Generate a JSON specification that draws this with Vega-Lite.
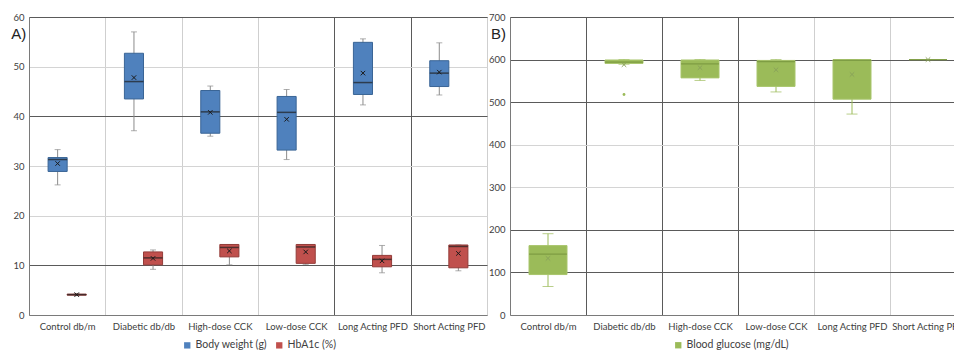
{
  "$schema": "https://vega.github.io/schema/vega-lite/v6.json",
  "padding": {"left": 10, "top": 11, "right": 0, "bottom": 0},
  "background": "white",
  "bounds": "flush",
  "spacing": 23,
  "config": {
    "font": "Lato",
    "view": {"stroke": "#8a8a8a", "strokeWidth": 1},
    "axis": {"labelFont": "Lato", "labelColor": "#404040", "ticks": false, "title": null, "domainColor": "#7a7a7a"},
    "legend": {"orient": "none", "direction": "horizontal", "symbolType": "square", "symbolSize": 40, "labelFont": "Lato", "labelFontSize": 10.5, "labelColor": "#404040", "columnPadding": 6, "labelOffset": 3, "padding": 0, "symbolStrokeWidth": 0, "title": null}
  },
  "datasets": {
    "panelA": [
      {"group": "Control db/m", "series": "Body weight (g)", "min": 26.2, "q1": 28.9, "median": 31.3, "q3": 31.7, "max": 33.3, "mean": 30.5},
      {"group": "Diabetic db/db", "series": "Body weight (g)", "min": 37.1, "q1": 43.5, "median": 47.0, "q3": 52.7, "max": 57.0, "mean": 47.8},
      {"group": "High-dose CCK", "series": "Body weight (g)", "min": 36.0, "q1": 36.6, "median": 40.9, "q3": 45.2, "max": 46.1, "mean": 40.8},
      {"group": "Low-dose CCK", "series": "Body weight (g)", "min": 31.3, "q1": 33.2, "median": 40.8, "q3": 44.0, "max": 45.4, "mean": 39.4},
      {"group": "Long Acting PFD", "series": "Body weight (g)", "min": 42.3, "q1": 44.4, "median": 46.8, "q3": 54.9, "max": 55.6, "mean": 48.7},
      {"group": "Short Acting PFD", "series": "Body weight (g)", "min": 44.3, "q1": 46.0, "median": 48.7, "q3": 51.2, "max": 54.8, "mean": 48.9},
      {"group": "Control db/m", "series": "HbA1c (%)", "min": 3.9, "q1": 4.0, "median": 4.1, "q3": 4.2, "max": 4.3, "mean": 4.1},
      {"group": "Diabetic db/db", "series": "HbA1c (%)", "min": 9.2, "q1": 10.1, "median": 11.5, "q3": 12.7, "max": 13.1, "mean": 11.4},
      {"group": "High-dose CCK", "series": "HbA1c (%)", "min": 10.1, "q1": 11.7, "median": 13.6, "q3": 14.2, "max": 14.2, "mean": 12.9},
      {"group": "Low-dose CCK", "series": "HbA1c (%)", "min": 10.2, "q1": 10.4, "median": 13.7, "q3": 14.2, "max": 14.2, "mean": 12.7},
      {"group": "Long Acting PFD", "series": "HbA1c (%)", "min": 8.5, "q1": 9.7, "median": 11.2, "q3": 12.0, "max": 14.0, "mean": 10.9},
      {"group": "Short Acting PFD", "series": "HbA1c (%)", "min": 8.9, "q1": 9.5, "median": 13.8, "q3": 14.1, "max": 14.1, "mean": 12.4}
    ],
    "panelB": [
      {"group": "Control db/m", "series": "Blood glucose (mg/dL)", "min": 67, "q1": 95, "median": 143, "q3": 163, "max": 191, "mean": 133},
      {"group": "Diabetic db/db", "series": "Blood glucose (mg/dL)", "min": 589, "q1": 591, "median": 594, "q3": 599, "max": 600, "mean": 588},
      {"group": "High-dose CCK", "series": "Blood glucose (mg/dL)", "min": 551, "q1": 557, "median": 590, "q3": 599, "max": 600, "mean": 581},
      {"group": "Low-dose CCK", "series": "Blood glucose (mg/dL)", "min": 524, "q1": 537, "median": 595, "q3": 598, "max": 600, "mean": 576},
      {"group": "Long Acting PFD", "series": "Blood glucose (mg/dL)", "min": 472, "q1": 507, "median": 598, "q3": 600, "max": 600, "mean": 565},
      {"group": "Short Acting PFD", "series": "Blood glucose (mg/dL)", "min": 600, "q1": 600, "median": 600, "q3": 600, "max": 600, "mean": 600}
    ],
    "outliersB": [
      {"group": "Diabetic db/db", "value": 518}
    ],
    "labelA": [{"label": "A)"}],
    "labelB": [{"label": "B)"}]
  },
  "resolve": {"scale": {"color": "independent", "stroke": "independent", "y": "independent", "x": "independent"}, "legend": {"color": "independent"}},
  "hconcat": [
    {
      "width": 458,
      "height": 298,
      "data": {"name": "panelA"},
      "encoding": {
        "x": {"field": "group", "type": "nominal", "sort": null, "scale": {"paddingInner": 0, "paddingOuter": 0},
          "axis": {"tickBand": "extent", "grid": true, "labelAngle": 0, "labelFontSize": 9.5, "labelPadding": 6,
            "gridColor": {"condition": {"test": "datum.value === 'Low-dose CCK' || datum.value === 'Long Acting PFD'", "value": "#5a5a5a"}, "value": "#cfcfcf"}}},
        "xOffset": {"field": "series", "type": "nominal", "scale": {"paddingInner": 0, "paddingOuter": 1}}
      },
      "layer": [
        {
          "mark": {"type": "rule", "color": "#8c8c8c", "strokeWidth": 1},
          "encoding": {
            "y": {"field": "min", "type": "quantitative", "scale": {"domain": [0, 60], "nice": false},
              "axis": {"values": [0, 10, 20, 30, 40, 50, 60], "grid": true, "labelFontSize": 9.5, "labelPadding": 5,
                "gridColor": {"condition": {"test": "datum.value === 10 || datum.value === 40 || datum.value === 60", "value": "#5a5a5a"}, "value": "#d4d4d4"}}},
            "y2": {"field": "max"}
          }
        },
        {
          "mark": {"type": "tick", "color": "#8c8c8c", "size": 6, "thickness": 1},
          "encoding": {"y": {"field": "min", "type": "quantitative"}}
        },
        {
          "mark": {"type": "tick", "color": "#8c8c8c", "size": 6, "thickness": 1},
          "encoding": {"y": {"field": "max", "type": "quantitative"}}
        },
        {
          "mark": {"type": "bar", "strokeWidth": 1},
          "encoding": {
            "y": {"field": "q1", "type": "quantitative"},
            "y2": {"field": "q3"},
            "color": {"field": "series", "type": "nominal", "scale": {"domain": ["Body weight (g)", "HbA1c (%)"], "range": ["#4f81bd", "#c0504d"]},
              "legend": {"legendX": 153, "legendY": 323}},
            "stroke": {"field": "series", "type": "nominal", "scale": {"domain": ["Body weight (g)", "HbA1c (%)"], "range": ["#3a6596", "#943c39"]}, "legend": null}
          }
        },
        {
          "mark": {"type": "tick", "color": "#1f1f1f", "size": 19, "thickness": 1.5},
          "encoding": {"y": {"field": "median", "type": "quantitative"}}
        },
        {
          "mark": {"type": "point", "shape": "M-1,-1L1,1M-1,1L1,-1", "size": 20, "filled": false, "stroke": "#1a1a1a", "strokeWidth": 1, "opacity": 1},
          "encoding": {"y": {"field": "mean", "type": "quantitative"}}
        },
        {
          "data": {"name": "labelA"},
          "mark": {"type": "text", "align": "left", "baseline": "middle", "fontSize": 15, "font": "Liberation Sans", "color": "#222222", "dx": -56},
          "encoding": {
            "x": {"datum": "Control db/m", "type": "nominal"},
            "xOffset": null,
            "y": {"datum": 56.6, "type": "quantitative"},
            "text": {"field": "label"}
          }
        }
      ]
    },
    {
      "width": 456,
      "height": 298,
      "data": {"name": "panelB"},
      "encoding": {
        "x": {"field": "group", "type": "nominal", "sort": null, "scale": {"paddingInner": 0, "paddingOuter": 0},
          "axis": {"tickBand": "extent", "grid": true, "labelAngle": 0, "labelFontSize": 9.5, "labelPadding": 6,
            "gridColor": {"condition": {"test": "datum.value === 'Control db/m' || datum.value === 'Diabetic db/db' || datum.value === 'High-dose CCK'", "value": "#5a5a5a"}, "value": "#cfcfcf"}}}
      },
      "layer": [
        {
          "mark": {"type": "rule", "color": "#9bbb59", "strokeWidth": 1},
          "encoding": {
            "y": {"field": "min", "type": "quantitative", "scale": {"domain": [0, 700], "nice": false},
              "axis": {"values": [0, 100, 200, 300, 400, 500, 600, 700], "grid": true, "labelFontSize": 9.5, "labelPadding": 5,
                "gridColor": {"condition": {"test": "datum.value === 100 || datum.value === 200 || datum.value === 500 || datum.value === 600 || datum.value === 700", "value": "#5a5a5a"}, "value": "#d4d4d4"}}},
            "y2": {"field": "max"}
          }
        },
        {
          "mark": {"type": "tick", "color": "#9bbb59", "size": 11, "thickness": 1},
          "encoding": {"y": {"field": "min", "type": "quantitative"}}
        },
        {
          "mark": {"type": "tick", "color": "#9bbb59", "size": 11, "thickness": 1},
          "encoding": {"y": {"field": "max", "type": "quantitative"}}
        },
        {
          "mark": {"type": "bar", "strokeWidth": 1, "width": {"band": 0.5}},
          "encoding": {
            "y": {"field": "q1", "type": "quantitative"},
            "y2": {"field": "q3"},
            "color": {"field": "series", "type": "nominal", "scale": {"domain": ["Blood glucose (mg/dL)"], "range": ["#9bbb59"]},
              "legend": {"legendX": 163, "legendY": 323}},
            "stroke": {"field": "series", "type": "nominal", "scale": {"domain": ["Blood glucose (mg/dL)"], "range": ["#a8c56c"]}, "legend": null}
          }
        },
        {
          "mark": {"type": "tick", "color": "#72903a", "size": 38, "thickness": 1.2},
          "encoding": {"y": {"field": "median", "type": "quantitative"}}
        },
        {
          "mark": {"type": "point", "shape": "M-1,-1L1,1M-1,1L1,-1", "size": 20, "filled": false, "stroke": "#8aa35a", "strokeWidth": 1, "opacity": 1},
          "encoding": {"y": {"field": "mean", "type": "quantitative"}}
        },
        {
          "data": {"name": "outliersB"},
          "mark": {"type": "point", "shape": "circle", "size": 8, "filled": true, "color": "#9bbb59", "opacity": 1},
          "encoding": {"y": {"field": "value", "type": "quantitative"}}
        },
        {
          "data": {"name": "labelB"},
          "mark": {"type": "text", "align": "left", "baseline": "middle", "fontSize": 15, "font": "Liberation Sans", "color": "#222222", "dx": -57},
          "encoding": {
            "x": {"datum": "Control db/m", "type": "nominal"},
            "y": {"datum": 660, "type": "quantitative"},
            "text": {"field": "label"}
          }
        }
      ]
    }
  ]
}
